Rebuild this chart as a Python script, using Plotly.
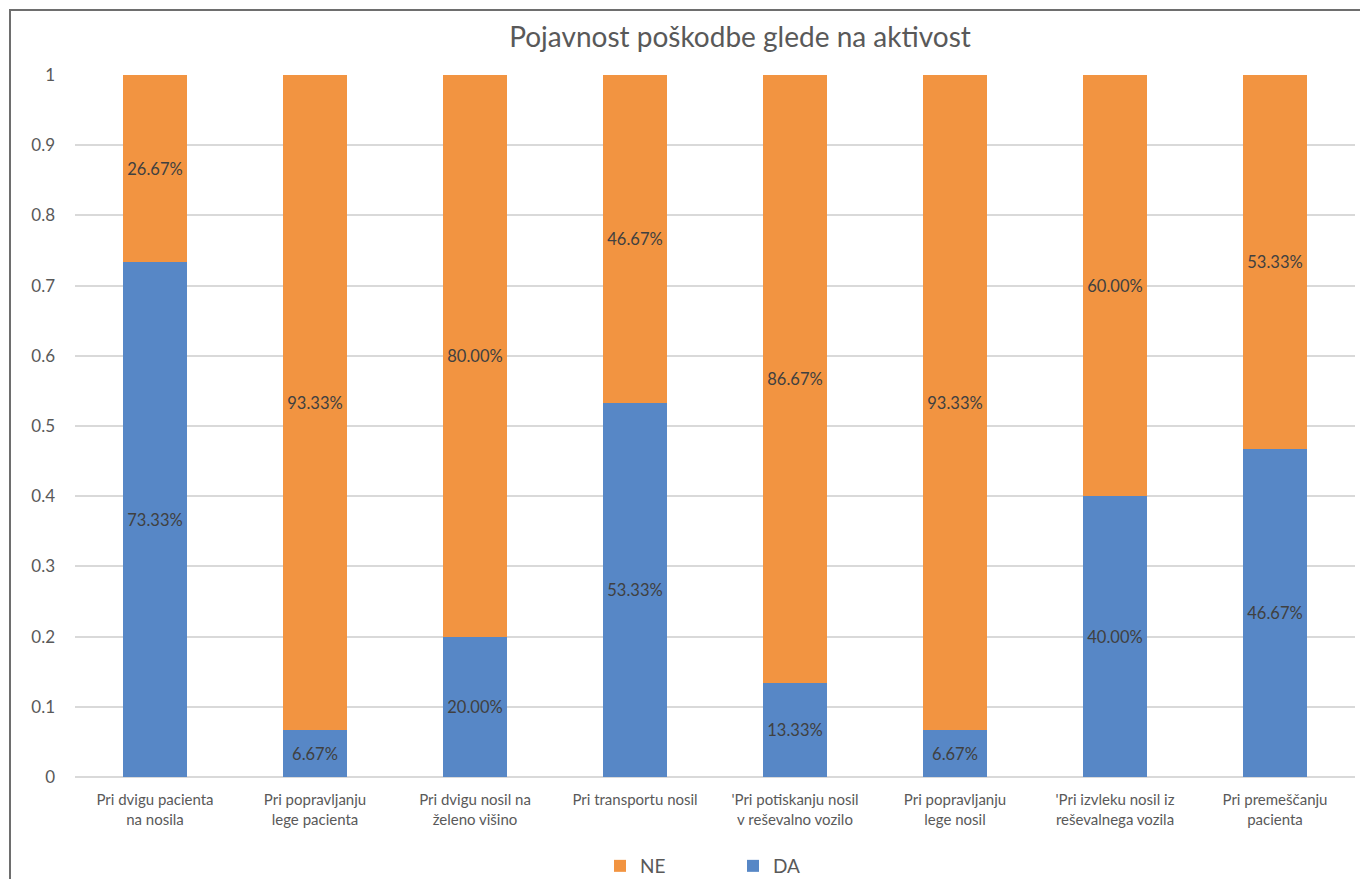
import plotly.graph_objects as go

categories = [
    "Pri dvigu pacienta<br>na nosila",
    "Pri popravljanju<br>lege pacienta",
    "Pri dvigu nosil na<br>želeno višino",
    "Pri transportu nosil",
    "'Pri potiskanju nosil<br>v reševalno vozilo",
    "Pri popravljanju<br>lege nosil",
    "'Pri izvleku nosil iz<br>reševalnega vozila",
    "Pri premeščanju<br>pacienta",
]
da_values = [0.7333, 0.0667, 0.20, 0.5333, 0.1333, 0.0667, 0.40, 0.4667]
ne_values = [0.2667, 0.9333, 0.80, 0.4667, 0.8667, 0.9333, 0.60, 0.5333]
y_ticks = [0, 0.1, 0.2, 0.3, 0.4, 0.5, 0.6, 0.7, 0.8, 0.9, 1]
title_text = "Pojavnost poškodbe glede na aktivost"

FONT = "Lato, Open Sans, sans-serif"
BLUE = "#5787C6"
ORANGE = "#F29441"

fig = go.Figure()
fig.add_trace(go.Bar(
    name="DA", x=categories, y=da_values,
    marker=dict(color=BLUE, line=dict(width=0)),
    text=[f"{v*100:.2f}%" for v in da_values],
    textposition="inside", insidetextanchor="middle",
    textfont=dict(family=FONT, size=16.5, color="#404040"),
    textangle=0, cliponaxis=False,
))
fig.add_trace(go.Bar(
    name="NE", x=categories, y=ne_values,
    marker=dict(color=ORANGE, line=dict(width=0)),
    text=[f"{v*100:.2f}%" for v in ne_values],
    textposition="inside", insidetextanchor="middle",
    textfont=dict(family=FONT, size=16.5, color="#404040"),
    textangle=0, cliponaxis=False,
))

fig.update_layout(
    width=1360, height=879,
    barmode="stack", bargap=0.594,
    margin=dict(l=75, r=5, t=75, b=102, autoexpand=False),
    paper_bgcolor="white", plot_bgcolor="white",
    font=dict(family=FONT, color="#595959"),
    title=dict(text=title_text, x=(740 - 75) / 1280, xref="paper", xanchor="center",
               y=1 - 37 / 879, yref="container", yanchor="middle",
               font=dict(family=FONT, size=28, color="#595959")),
    legend=dict(orientation="h", traceorder="reversed",
                x=(600 - 75) / 1280, xanchor="left", y=1 - 866 / 879, yref="container",
                yanchor="middle",
                font=dict(family=FONT, size=19, color="#595959"),
                itemwidth=30, itemsizing="constant", entrywidth=88),
    xaxis=dict(showgrid=False, showline=False, ticks="", automargin=False,
               ticklabelstandoff=12,
               tickfont=dict(family=FONT, size=15, color="#595959")),
    yaxis=dict(range=[0, 1], tickvals=y_ticks, showgrid=True, gridcolor="#D9D9D9",
               gridwidth=2, zeroline=True, zerolinecolor="#D9D9D9", zerolinewidth=2,
               showline=False, ticks="", ticklabelstandoff=19, automargin=False,
               tickfont=dict(family=FONT, size=17, color="#595959")),
    shapes=[dict(type="rect", xref="paper", yref="paper",
                 x0=(10 - 75) / 1280, x1=(1380 - 75) / 1280,
                 y0=(777 - 900) / 702, y1=1 + (75 - 10) / 702,
                 line=dict(color="#6E6E6E", width=2), fillcolor="rgba(0,0,0,0)", layer="below")],
)

fig.write_html("out.html")
